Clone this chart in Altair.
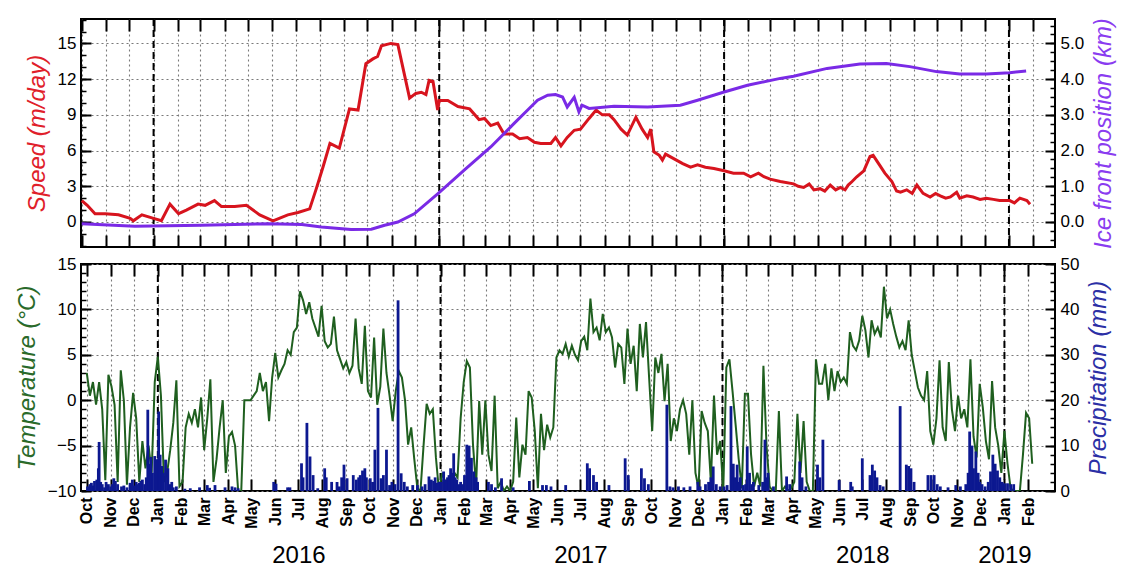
import altair as alt
import pandas as pd

FONT = "Liberation Sans"
RED = "#d7141e"
PURPLE = "#7a2ae6"
GREEN = "#1f5f1f"
NAVY = "#0c1890"
RED_T = "#e0202a"
PURPLE_T = "#8a3cf0"
GREEN_T = "#2a6a2a"
NAVY_T = "#2b2fa5"

# ---------------- data ----------------
speed_dates = [
    "2015-10-01", "2015-10-08", "2015-10-18", "2015-10-31", "2015-11-17", "2015-12-02", "2015-12-06",
    "2015-12-17", "2016-01-01", "2016-01-11", "2016-01-22", "2016-02-02", "2016-02-12", "2016-02-27",
    "2016-03-07", "2016-03-19", "2016-03-28", "2016-04-14", "2016-04-29", "2016-05-16", "2016-06-02",
    "2016-06-21", "2016-07-04", "2016-07-19", "2016-07-27", "2016-08-05", "2016-08-14", "2016-08-26",
    "2016-09-08", "2016-09-19", "2016-09-29", "2016-10-08", "2016-10-14", "2016-10-19", "2016-10-31",
    "2016-11-09", "2016-11-24", "2016-12-02", "2016-12-09", "2016-12-15", "2016-12-19", "2016-12-24",
    "2016-12-30", "2017-01-01", "2017-01-12", "2017-01-25", "2017-02-09", "2017-02-21", "2017-02-28",
    "2017-03-08", "2017-03-17", "2017-03-25", "2017-04-05", "2017-04-14", "2017-04-24", "2017-05-03",
    "2017-05-11", "2017-05-24", "2017-05-30", "2017-06-06", "2017-06-14", "2017-06-23", "2017-07-01",
    "2017-07-12", "2017-07-21", "2017-07-29", "2017-08-07", "2017-08-13", "2017-08-22", "2017-08-30",
    "2017-09-10", "2017-09-18", "2017-09-25", "2017-09-29", "2017-10-03", "2017-10-10", "2017-10-14",
    "2017-10-18", "2017-10-29", "2017-11-09", "2017-11-19", "2017-11-28", "2017-12-08", "2017-12-19",
    "2018-01-01", "2018-01-13", "2018-01-26", "2018-02-04", "2018-02-14", "2018-02-21", "2018-03-01",
    "2018-03-14", "2018-03-31", "2018-04-06", "2018-04-13", "2018-04-20", "2018-04-26", "2018-05-04",
    "2018-05-10", "2018-05-17", "2018-05-24", "2018-05-30", "2018-06-05", "2018-06-09", "2018-06-14",
    "2018-06-20", "2018-06-29", "2018-07-07", "2018-07-11", "2018-07-18", "2018-07-26", "2018-08-04",
    "2018-08-10", "2018-08-15", "2018-08-23", "2018-08-30", "2018-09-05", "2018-09-13", "2018-09-22",
    "2018-09-29", "2018-10-05", "2018-10-12", "2018-10-18", "2018-10-26", "2018-10-30", "2018-11-08",
    "2018-11-16", "2018-11-25", "2018-12-03", "2018-12-12", "2018-12-20", "2019-01-02", "2019-01-08",
    "2019-01-15", "2019-01-24", "2019-01-28",
]
speed_values = [
    1.8, 1.4, 0.7, 0.7, 0.6, 0.3, 0.1,
    0.6, 0.3, 0.1, 1.5, 0.7, 1.0, 1.5,
    1.4, 1.8, 1.3, 1.3, 1.4, 0.6, 0.1,
    0.6, 0.8, 1.1, 2.7, 4.6, 6.6, 6.2,
    9.5, 9.4, 13.3, 13.7, 13.9, 14.8, 15.0,
    14.9, 10.4, 10.8, 10.9, 10.7, 11.9, 11.8,
    9.4, 10.2, 10.2, 9.7, 9.5, 8.6, 8.7,
    8.1, 8.3, 7.4, 7.4, 7.0, 7.1, 6.7,
    6.6, 6.6, 7.1, 6.4, 7.1, 7.7, 7.8,
    8.7, 9.4, 9.0, 9.0, 8.6, 7.8, 7.3,
    8.8, 7.8, 7.1, 7.8, 5.9, 5.6, 5.2,
    5.7, 5.3, 4.9, 4.6, 4.8, 4.6, 4.5,
    4.3, 4.1, 4.1, 3.8, 4.1, 3.8, 3.6,
    3.4, 3.2, 3.0, 2.9, 3.2, 2.7, 2.8,
    2.6, 3.1, 2.7, 2.9, 2.7, 3.1, 3.4,
    3.8, 4.3, 5.5, 5.6, 4.9, 4.1, 3.4,
    2.6, 2.5, 2.7, 2.4, 3.1, 2.4, 2.1,
    2.4, 2.2, 2.0, 2.1, 2.5, 2.0, 2.2,
    2.1, 1.9, 2.0, 1.9, 1.8, 1.8, 1.6,
    2.0, 1.8, 1.5,
]

ice_dates = [
    "2015-10-01", "2015-12-08", "2016-03-02", "2016-05-28", "2016-07-09", "2016-08-03", "2016-09-10",
    "2016-10-06", "2016-10-23", "2016-11-09", "2016-11-30", "2016-12-30", "2017-02-02", "2017-03-08",
    "2017-04-07", "2017-04-24", "2017-05-07", "2017-05-20", "2017-05-30", "2017-06-08", "2017-06-14",
    "2017-06-23", "2017-06-29", "2017-07-03", "2017-07-12", "2017-08-13", "2017-09-25", "2017-11-06",
    "2017-11-28", "2018-01-01", "2018-01-31", "2018-03-14", "2018-03-31", "2018-05-13", "2018-06-24",
    "2018-07-28", "2018-08-27", "2018-09-30", "2018-10-30", "2018-12-03", "2019-01-02", "2019-01-23",
]
ice_values = [
    -0.05, -0.12, -0.09, -0.05, -0.07, -0.14, -0.21,
    -0.20, -0.09, 0.0, 0.23, 0.79, 1.45, 2.10,
    2.76, 3.13, 3.41, 3.55, 3.57, 3.50, 3.22,
    3.49, 3.08, 3.27, 3.18, 3.24, 3.22, 3.27,
    3.41, 3.64, 3.83, 4.02, 4.08, 4.30, 4.42,
    4.44, 4.35, 4.21, 4.14, 4.14, 4.18, 4.23,
]

# air temperature, one reading every 4 days from 2015-10-01
temp_start = "2015-10-01"
temp_values = [
    3.0, 0.5, 2.0, -0.5, 2.0, -1.0, -8.8, 2.8, 1.5, -0.5,
    -9.0, 3.3, 0.0, -9.3, -3.0, 0.8, -2.0, -9.0, -4.5, -7.5,
    -5.0, -8.0, 2.0, 4.8, 0.5, -9.0, -8.0, -5.5, -2.5, 2.2,
    -9.5, -9.0, -3.0, -1.5, -2.5, -1.0, -3.0, 0.3, -5.5, -2.0,
    2.3, -9.0, -6.5, -3.0, 0.0, -8.0, -4.0, -3.5, -5.0, -10.0,
    -10.0, 0.0, 0.0, 0.0, 0.5, 1.0, 3.0, 1.0, 2.0, -2.3,
    2.5, 5.2, 2.5, 3.3, 4.0, 5.5, 5.0, 7.5, 8.0, 12.0,
    11.0, 9.5, 10.8, 9.0, 8.0, 7.0, 10.4, 6.5, 5.8, 6.2,
    9.2, 5.5, 4.5, 3.5, 4.2, 3.0, 3.8, 9.0, 3.5, 1.8,
    8.2, 1.0, 0.3, 6.9, -0.5, 1.5, 7.9, 3.0, 0.5, -2.3,
    1.0, 3.2, 2.5, 0.0, -4.9, -3.0, -6.5, -9.7, -10.0, -5.0,
    -0.4, -1.5, -1.0, -6.3, -10.0, -8.0, -9.0, -10.0, -10.0, -8.0,
    -8.5, -2.0, 2.0, 4.3, 3.6, -4.9, -9.5, -0.1, -6.0, 0.0,
    -6.0, -7.8, 0.5, -9.7, -9.0, -10.0, -9.5, -10.0, -9.0, -1.9,
    -8.5, -4.9, -6.0, 1.0, 0.3, -3.4, -9.7, -1.5, -5.5, -2.7,
    -4.1, -3.0, 4.7, 5.5, 5.1, 6.2, 4.8, 6.0, 5.0, 4.4,
    6.5, 7.0, 5.5, 11.2, 7.5, 8.0, 6.6, 9.5, 7.5, 8.0,
    6.9, 3.6, 6.2, 5.8, 1.8, 7.9, 4.0, 6.0, 1.0, 8.4,
    4.7, 8.6, 2.5, -3.4, 4.7, 3.0, 5.1, -0.1, 4.0, -4.5,
    -2.0, -3.4, -1.0, 0.0, -1.5, -6.0, 0.0, -8.0, -9.7, -1.2,
    -2.5, -3.4, -9.0, 0.5, -6.0, -4.5, -10.0, 3.6, 4.5, 1.0,
    -2.7, -6.5, -9.7, 0.7, 0.7, -6.0, -9.5, -8.0, -9.5, 3.8,
    -5.0, -9.5, -10.0, -10.0, -1.2, -10.0, -9.5, -10.0, -9.7, -9.0,
    -1.5, -8.0, -2.3, -9.0, -10.0, -10.0, 4.5, 1.8, 1.8, 4.0,
    0.0, 3.5, 1.0, 3.2, 2.0, 2.5, 1.8, 7.5, 6.0, 5.5,
    6.6, 9.3, 7.7, 4.7, 8.8, 7.3, 8.0, 6.9, 12.5, 9.0,
    10.0, 8.4, 7.0, 5.8, 6.5, 5.5, 8.8, 5.0, 3.2, 1.4,
    0.5, 0.0, 3.2, -3.4, -4.9, -2.0, 4.4, -3.0, -4.5, 4.2,
    -1.0, -3.4, 0.5, -2.0, -1.0, -3.0, 4.5, -4.0, -6.3, 1.8,
    -0.8, -4.5, -6.5, 2.1, -3.0, -5.0, -8.0, -3.4, -7.0, -9.7,
    -10.0, -10.0, -10.0, -6.0, -1.4, -2.0, -7.0,
]

precip_dates = [
    "2015-10-02", "2015-10-05", "2015-10-09", "2015-10-14", "2015-10-16", "2015-10-17", "2015-10-19",
    "2015-10-24", "2015-10-29", "2015-11-03", "2015-11-05", "2015-11-07", "2015-11-15", "2015-11-22",
    "2015-12-01", "2015-12-04", "2015-12-08", "2015-12-12", "2015-12-15", "2015-12-19", "2015-12-21",
    "2015-12-23", "2015-12-25", "2015-12-28", "2015-12-31", "2016-01-02", "2016-01-04", "2016-01-06",
    "2016-01-11", "2016-01-14", "2016-01-17", "2016-01-21", "2016-02-05", "2016-02-12", "2016-02-24",
    "2016-03-05", "2016-03-08", "2016-03-15", "2016-03-28", "2016-04-06", "2016-04-10", "2016-04-14",
    "2016-05-30", "2016-06-02", "2016-06-17", "2016-06-20", "2016-07-05", "2016-07-07", "2016-07-12",
    "2016-07-16", "2016-07-20", "2016-07-26", "2016-08-04", "2016-08-06", "2016-08-13", "2016-08-20",
    "2016-08-23", "2016-08-26", "2016-08-29", "2016-09-02", "2016-09-10", "2016-09-14", "2016-09-17",
    "2016-09-19", "2016-09-22", "2016-09-25", "2016-09-27", "2016-10-02", "2016-10-08", "2016-10-12",
    "2016-10-16", "2016-10-23", "2016-10-27", "2016-11-07", "2016-11-11", "2016-11-15", "2016-11-26",
    "2016-12-02", "2016-12-17", "2016-12-20", "2016-12-25", "2016-12-30", "2017-01-05", "2017-01-10",
    "2017-01-14", "2017-01-18", "2017-01-22", "2017-01-27", "2017-01-30", "2017-02-04", "2017-02-07",
    "2017-02-10", "2017-02-13", "2017-02-16", "2017-02-18", "2017-03-04", "2017-03-08", "2017-03-13",
    "2017-03-21", "2017-04-05", "2017-04-26", "2017-05-13", "2017-05-18", "2017-05-24", "2017-06-12",
    "2017-07-10", "2017-07-13", "2017-07-18", "2017-07-22", "2017-08-07", "2017-08-28", "2017-09-01",
    "2017-09-18", "2017-09-22", "2017-09-27", "2017-10-21", "2017-10-29", "2017-11-12", "2017-11-30",
    "2017-12-03", "2017-12-17", "2017-12-20", "2017-12-29", "2018-01-07", "2018-01-12", "2018-01-15",
    "2018-01-20", "2018-01-24", "2018-01-28", "2018-02-02", "2018-02-05", "2018-02-10", "2018-02-17",
    "2018-02-25", "2018-03-01", "2018-03-08", "2018-03-25", "2018-03-29", "2018-04-11", "2018-04-14",
    "2018-04-19", "2018-05-04", "2018-05-07", "2018-05-11", "2018-06-01", "2018-06-16", "2018-06-18",
    "2018-07-01", "2018-07-11", "2018-07-14", "2018-07-17", "2018-07-20", "2018-07-24", "2018-07-28",
    "2018-08-19", "2018-08-27", "2018-08-30", "2018-09-02", "2018-09-06", "2018-09-24", "2018-09-28",
    "2018-10-02", "2018-10-06", "2018-10-30", "2018-11-17", "2018-11-20", "2018-11-25", "2018-11-28",
    "2018-12-14", "2018-12-17", "2018-12-20", "2018-12-23", "2019-01-01", "2019-01-05", "2019-01-09",
    "2019-01-13",
]
precip_values = [
    1.0, 1.5, 1.2, 2.5, 5.0, 10.8, 2.0,
    0.8, 1.5, 1.5, 2.8, 2.2, 1.0, 0.8,
    1.2, 2.0, 1.8, 2.5, 1.5, 17.9, 6.0,
    7.5, 4.0, 7.7, 7.0, 17.5, 8.0, 5.5,
    6.9, 5.0, 1.5, 0.8, 0.5, 0.6, 0.8,
    1.3, 0.7, 1.3, 0.8, 1.0, 0.8, 0.6,
    2.0, 1.6, 0.8, 0.8, 6.1, 3.0, 15.0,
    7.6, 3.5, 0.6, 5.0, 3.0, 2.0, 2.0,
    1.0, 3.0, 5.8, 2.8, 3.5, 2.5, 3.0,
    3.5, 4.5, 5.0, 3.0, 2.8, 9.1, 18.3,
    2.8, 9.1, 1.3, 42.0, 3.9, 2.0, 1.3,
    1.3, 3.2, 2.5, 3.0, 2.0, 4.3, 3.0,
    5.0, 8.3, 2.5, 2.0, 1.5, 10.2, 10.0,
    7.3, 4.3, 3.0, 2.0, 2.0, 1.5, 0.8,
    2.8, 0.8, 2.2, 1.3, 1.3, 1.0, 1.3,
    6.1, 5.0, 3.5, 2.0, 1.3, 7.2, 3.5,
    5.0, 2.8, 1.5, 19.0, 0.8, 0.8, 2.0,
    1.0, 3.0, 5.4, 1.0, 1.3, 18.7, 6.0,
    5.8, 3.0, 1.3, 9.8, 4.0, 2.0, 1.3,
    11.3, 4.0, 1.0, 3.2, 1.5, 6.5, 3.0,
    1.0, 5.8, 3.0, 11.3, 2.4, 2.0, 1.0,
    7.2, 3.5, 5.8, 4.5, 3.0, 1.3, 1.0,
    18.7, 5.8, 5.5, 5.0, 2.0, 3.5, 3.5,
    3.5, 1.5, 1.3, 13.1, 10.0, 8.7, 4.0,
    4.3, 8.0, 6.0, 4.5, 1.7, 1.7, 1.5,
    1.5,
]

# the many small winter readings along the bottom of the panel
precip_small_dates = [
    "2015-10-07", "2015-10-11", "2015-10-21", "2015-10-26", "2015-11-01", "2015-11-10", "2015-11-18",
    "2015-11-26", "2015-11-29", "2015-12-06", "2015-12-10", "2015-12-17", "2016-01-08", "2016-01-19",
    "2016-01-25", "2016-10-05", "2016-10-19", "2016-10-30", "2016-11-03", "2016-11-19", "2016-12-08",
    "2016-12-12", "2016-12-23", "2016-12-27", "2017-01-02", "2017-01-08", "2017-01-12", "2017-01-16",
    "2017-01-20", "2017-01-25", "2017-02-01", "2017-10-25", "2017-11-05", "2017-11-20", "2017-12-10",
    "2017-12-14", "2017-12-24", "2018-01-03", "2018-01-17", "2018-01-22", "2018-01-31", "2018-02-08",
    "2018-02-22", "2018-02-27", "2018-10-10", "2018-10-20", "2018-11-05", "2018-11-12", "2018-11-15",
    "2018-11-22", "2018-11-30", "2018-12-03", "2018-12-07", "2018-12-11", "2018-12-26", "2018-12-29",
]
precip_small_values = [
    1.8, 2.2, 1.5, 2.0, 1.0, 1.5, 1.2,
    1.8, 2.5, 1.5, 2.2, 3.0, 4.0, 2.0,
    1.0, 2.0, 3.5, 2.0, 1.5, 1.0, 1.0,
    1.5, 2.2, 1.8, 2.0, 2.5, 3.5, 4.0,
    3.0, 1.5, 3.5, 1.0, 1.0, 1.0, 1.5,
    2.0, 1.5, 1.0, 3.0, 2.0, 1.5, 1.5,
    2.0, 3.0, 1.0, 0.8, 1.0, 1.5, 4.0,
    5.0, 2.0, 1.5, 1.0, 2.0, 3.0, 2.0,
]

speed_ticks = [0, 3, 6, 9, 12, 15]
ice_ticks = [0, 1, 2, 3, 4, 5]
temp_ticks = [-10, -5, 0, 5, 10, 15]
precip_ticks = [0, 10, 20, 30, 40, 50]
speed_minor = list(range(-2, 18))
ice_minor = [q / 4 for q in range(-2, 23)]
temp_minor = list(range(-10, 16))
precip_minor = list(range(0, 51, 2))

jan_lines = ["2016-01-01", "2017-01-01", "2018-01-01", "2019-01-01"]
year_label_dates = ["2016-07-01", "2017-07-01", "2018-07-01", "2019-01-01"]
x_domain = ["2015-09-30", "2019-03-01"]
month_ticks = pd.date_range("2015-10-01", "2019-02-01", freq="MS").strftime("%Y-%m-%d").tolist()

# ---------------- frames ----------------
temp_dates = pd.date_range(temp_start, periods=len(temp_values), freq="4D").strftime("%Y-%m-%d").tolist()
speed_df = pd.DataFrame({"date": speed_dates, "speed": speed_values})
ice_df = pd.DataFrame({"date": ice_dates, "ice": ice_values})
temp_df = pd.DataFrame({"date": temp_dates, "temp": temp_values})
precip_df = pd.DataFrame({"date": precip_dates + precip_small_dates,
                          "precip": precip_values + precip_small_values})
jan_df = pd.DataFrame({"date": jan_lines})


def dt(s):
    y, m, d = (int(p) for p in s.split("-"))
    return alt.DateTime(year=y, month=m, date=d, utc=True)


W = 974
H1 = 228
H2 = 227
XT = 12  # inward x tick length

xscale = alt.Scale(type="utc", domain=[dt(s) for s in x_domain], nice=False)
month_vals = [dt(s) for s in month_ticks]
GRID = dict(gridColor="#7a7a7a", gridDash=[2, 3], gridWidth=1.1)


def x_tick_axis(orient, grid):
    kw = dict(orient=orient, offset=-XT, tickSize=XT, tickWidth=2, tickColor="black",
              labels=False, domain=False, values=month_vals, title=None, grid=grid)
    if grid:
        kw.update(GRID)
    return alt.Axis(**kw)


def y_major(orient, values, title, color, fmt=None, grid=False, title_size=24):
    kw = dict(orient=orient, offset=-10, tickSize=10, tickWidth=2, tickColor="black", domain=False,
              values=values, labelFontSize=17, labelPadding=5, labelColor="black",
              title=title, titleColor=color, titleFontSize=title_size, titleFontStyle="italic",
              titleFontWeight="normal", titlePadding=8, titleAngle=270, grid=grid)
    if orient == "right":
        kw["titleBaseline"] = "top"
    if grid:
        kw.update(GRID)
    if fmt:
        kw["format"] = fmt
    return alt.Axis(**kw)


def y_minor(orient, values):
    return alt.Axis(orient=orient, offset=-5, tickSize=5, tickWidth=1.5, tickColor="black",
                    labels=False, domain=False, grid=False, values=values, title=None)


def xenc(axis):
    return alt.X("date:T", scale=xscale, axis=axis, title=None)


speed_scale = alt.Scale(domain=[-2.1, 17.05], nice=False, zero=False)
ice_scale = alt.Scale(domain=[-0.7, 5.683], nice=False, zero=False)
temp_scale = alt.Scale(domain=[-10, 15], nice=False, zero=False)
precip_scale = alt.Scale(domain=[0, 50], nice=False)

rule_style = dict(color="black", strokeWidth=2, strokeDash=[7, 4])

# ---------------- top panel ----------------
top_rules = alt.Chart(jan_df).mark_rule(**rule_style).encode(x=xenc(None))
top_speed_minor = alt.Chart(speed_df).mark_line(opacity=0).encode(
    x=xenc(None), y=alt.Y("speed:Q", scale=speed_scale, axis=y_minor("left", speed_minor)))
top_ice_minor = alt.Chart(ice_df).mark_line(opacity=0).encode(
    x=xenc(None), y=alt.Y("ice:Q", scale=ice_scale, axis=y_minor("right", ice_minor)))
speed_line = alt.Chart(speed_df).mark_line(color=RED, strokeWidth=3, clip=True).encode(
    x=xenc(x_tick_axis("bottom", True)),
    y=alt.Y("speed:Q", scale=speed_scale,
            axis=y_major("left", speed_ticks, "Speed (m/day)", RED_T, grid=True)))
ice_line = alt.Chart(ice_df).mark_line(color=PURPLE, strokeWidth=3, clip=True).encode(
    x=xenc(x_tick_axis("top", False)),
    y=alt.Y("ice:Q", scale=ice_scale,
            axis=y_major("right", ice_ticks, "Ice front position (km)", PURPLE_T, fmt=".1f")))

top = alt.layer(top_rules, top_speed_minor, top_ice_minor, speed_line, ice_line).resolve_scale(
    y="independent").resolve_axis(x="independent", y="independent").properties(width=W, height=H1)

# ---------------- bottom panel ----------------
month_label_axis = alt.Axis(orient="bottom", values=month_vals, format="%b", labelAngle=270,
                            labelFontSize=16, labelFontWeight="bold", labelPadding=6, ticks=False,
                            domain=False, grid=False, labelFlush=False, labelOverlap=False,
                            labelColor="black", title=None)
year_axis = alt.Axis(orient="bottom", values=[dt(s) for s in year_label_dates], format="%Y",
                     labelFontSize=24, labelPadding=52, ticks=False, domain=False, grid=False,
                     labelFlush=False, labelOverlap=False, labelAngle=0, labelColor="black", title=None)

bot_rules = alt.Chart(jan_df).mark_rule(**rule_style).encode(x=xenc(month_label_axis))
bot_temp_minor = alt.Chart(temp_df).mark_line(opacity=0).encode(
    x=xenc(year_axis), y=alt.Y("temp:Q", scale=temp_scale, axis=y_minor("left", temp_minor)))
bot_precip_minor = alt.Chart(precip_df).mark_line(opacity=0).encode(
    x=xenc(None), y=alt.Y("precip:Q", scale=precip_scale, axis=y_minor("right", precip_minor)))
temp_line = alt.Chart(temp_df).mark_line(color=GREEN, strokeWidth=2, clip=True).encode(
    x=xenc(x_tick_axis("bottom", True)),
    y=alt.Y("temp:Q", scale=temp_scale,
            axis=y_major("left", temp_ticks, "Temperature (°C)", GREEN_T, grid=True)))
precip_bars = alt.Chart(precip_df).mark_bar(color=NAVY, size=2.8, clip=True).encode(
    x=xenc(x_tick_axis("top", False)),
    y=alt.Y("precip:Q", scale=precip_scale,
            axis=y_major("right", precip_ticks, "Precipitation (mm)", NAVY_T)))

bottom = alt.layer(bot_rules, bot_temp_minor, bot_precip_minor, temp_line, precip_bars).resolve_scale(
    y="independent").resolve_axis(x="independent", y="independent").properties(width=W, height=H2)

chart = alt.vconcat(top, bottom, spacing=17, bounds="flush").properties(
    padding={"left": 6, "top": 8, "right": 4, "bottom": 0}
).configure_view(stroke="black", strokeWidth=2).configure_axis(labelFont=FONT, titleFont=FONT)

chart.save("out.html", embed_options={"renderer": "svg", "actions": False})
